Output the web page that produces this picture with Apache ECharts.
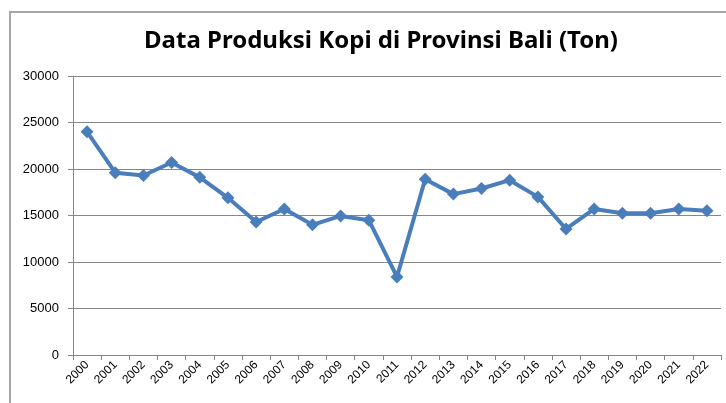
<!DOCTYPE html>
<html>
<head>
<meta charset="utf-8">
<script src="https://cdn.jsdelivr.net/npm/echarts@6/dist/echarts.min.js"></script>
<style>
    html, body {
        margin: 0;
        padding: 0;
        background: #fff;
    }

    .wrap {
        position: relative;
        width: 726px;
        height: 403px;
    }

    #kopiChart {
        width: 726px;
        height: 403px;
    }

    /* bingkai area grafik (terpotong di kanan & bawah) */
    .frame {
        position: absolute;
        left: 9px;
        top: 11px;
        right: 0;
        bottom: 0;
        border-left: 2px solid #a6a6a6;
        border-top: 2px solid #a6a6a6;
        pointer-events: none;
    }
</style>
</head>
<body>
<div class="wrap">
    <div id="kopiChart"></div>
    <div class="frame"></div>
</div>

<script>
// data produksi kopi (ton)
const years = ['2000', '2001', '2002', '2003', '2004', '2005', '2006', '2007', '2008', '2009', '2010', '2011',
    '2012', '2013', '2014', '2015', '2016', '2017', '2018', '2019', '2020', '2021', '2022'];
const produksi = [24000, 19600, 19300, 20700, 19100, 16900, 14300, 15700, 14000, 14950, 14500, 8400,
    18900, 17300, 17900, 18800, 17000, 13550, 15700, 15250, 15250, 15700, 15500];

const chartTitle = 'Data Produksi Kopi di Provinsi Bali (Ton)';

const myChart = echarts.init(document.getElementById('kopiChart'));

const options = {
    animation: false,
    title: {
        text: chartTitle,
        left: 376,
        textAlign: 'center',
        top: 24,
        textStyle: {
            fontFamily: 'Noto Sans',
            fontSize: 24,
            fontWeight: 'bold',
            color: '#000',
        },
    },
    grid: {
        left: 73,
        right: 5,
        top: 76,
        bottom: 48,
    },
    xAxis: {
        type: 'category',
        data: years,
        boundaryGap: true,
        axisLine: {
            show: true,
            lineStyle: { color: '#868686', width: 1 },
        },
        axisTick: {
            show: true,
            length: 5,
            lineStyle: { color: '#868686' },
        },
        axisLabel: {
            rotate: 45,
            margin: 8,
            interval: 0,
            fontFamily: 'Liberation Sans',
            fontSize: 12,
            color: '#000',
        },
    },
    yAxis: {
        type: 'value',
        min: 0,
        max: 30000,
        interval: 5000,
        axisLine: {
            show: true,
            lineStyle: { color: '#868686', width: 1 },
        },
        axisTick: {
            show: true,
            length: 5,
            lineStyle: { color: '#868686' },
        },
        splitLine: {
            show: true,
            lineStyle: { color: '#868686', width: 1 },
        },
        axisLabel: {
            margin: 14,
            fontFamily: 'Liberation Sans',
            fontSize: 13,
            color: '#000',
            formatter: (v) => String(v),
        },
    },
    series: [
        {
            type: 'line',
            data: produksi,
            symbol: 'diamond',
            symbolSize: 13,
            lineStyle: {
                color: '#4a7ebb',
                width: 4,
            },
            itemStyle: {
                color: '#4a7ebb',
            },
        }
    ],
};

myChart.setOption(options);
</script>
</body>
</html>
